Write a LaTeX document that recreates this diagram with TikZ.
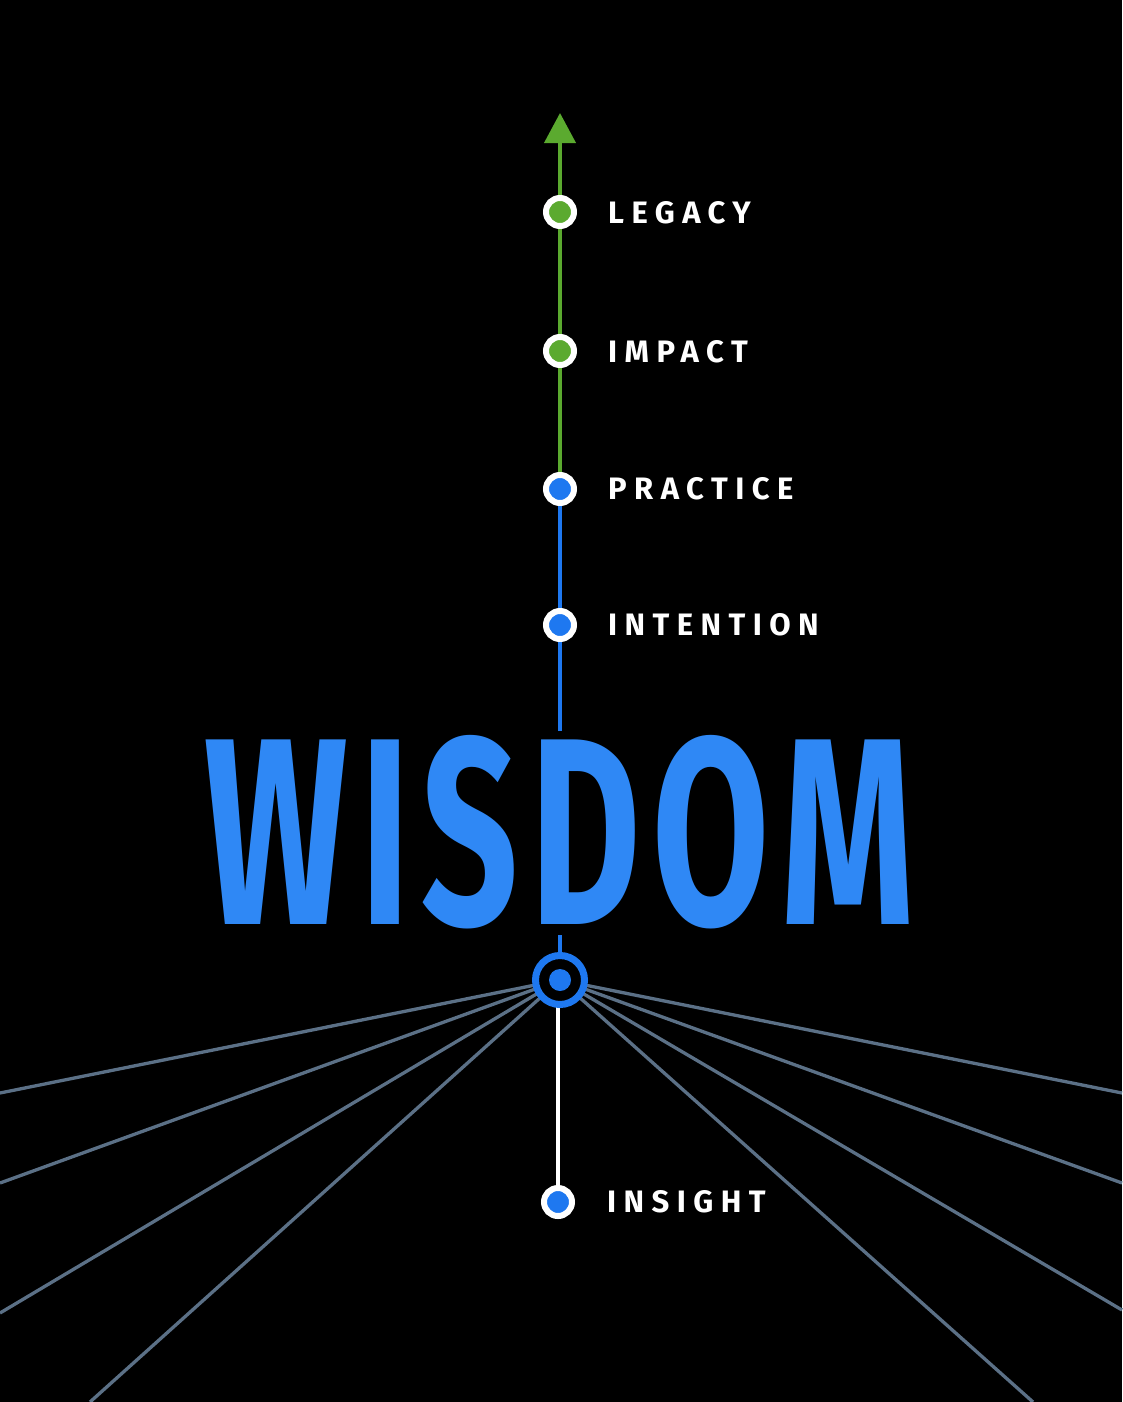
\documentclass[tikz,border=0pt]{standalone}
\usepackage{fontspec}
\setmainfont{Fira Sans}
\newfontfamily\labelfont[LetterSpace=24]{Fira Sans}
\newfontfamily\wisfont{Fira Sans}
\usetikzlibrary{arrows.meta}
\definecolor{gr}{HTML}{5BAA2F}
\definecolor{bl}{HTML}{1E78F0}
\definecolor{wb}{HTML}{2F88F5}
\definecolor{spoke}{HTML}{5B7086}
\begin{document}
\begin{tikzpicture}[x=1pt,y=-1pt,
  dotg/.style={circle,draw=white,line width=6pt,minimum size=28pt,inner sep=0pt,fill=gr},
  dotb/.style={circle,draw=white,line width=6pt,minimum size=28pt,inner sep=0pt,fill=bl},
  lbl/.style={anchor=west,text=white,inner sep=0pt,font=\labelfont\bfseries\fontsize{31}{31}\selectfont},
  spk/.style={draw=spoke,line width=3.3pt},
  stem/.style={line width=4pt}]
\fill[black] (0,0) rectangle (1122,1402);
\useasboundingbox (0,0) rectangle (1122,1402);

% coordinates
\coordinate (tip) at (560,113);
\coordinate (wtop) at (560,731);
\coordinate (wbot) at (560,935);
\coordinate (l1) at (0,1093);
\coordinate (l2) at (0,1183);
\coordinate (l3) at (0,1313);
\coordinate (l4) at (90,1402);
\coordinate (r1) at (1122,1093);
\coordinate (r2) at (1122,1183);
\coordinate (r3) at (1122,1310);
\coordinate (r4) at (1033,1402);
\coordinate (hubc) at (560,980);

% spokes
\foreach \e in {l1,l2,l3,l4,r1,r2,r3,r4}
  \draw[spk] (hubc) -- (\e);

% nodes
\node[dotg] (legacy) at (560,212) {};
\node[dotg] (impact) at (560,351) {};
\node[dotb] (practice) at (560,489) {};
\node[dotb] (intention) at (560,625) {};
\node[dotb] (insight) at (558,1202) {};

% stems
\draw[gr,stem,-{Triangle[width=31pt,length=30pt]}] (legacy) -- (tip);
\draw[gr,stem] (impact) -- (legacy);
\draw[gr,stem] (practice) -- (impact);
\draw[bl,stem] (intention) -- (practice);
\draw[bl,stem] (wtop) -- (intention);
\draw[white,stem] (insight) -- (insight |- hubc);

% hub
\node[circle,draw=bl,line width=7pt,minimum size=49pt,inner sep=0pt,fill=black] (hub) at (hubc) {};
\node[circle,fill=bl,minimum size=22pt,inner sep=0pt] (hubdot) at (hubc) {};
\draw[bl,stem] (wbot) -- (hub);

% WISDOM
\node[text=wb,inner sep=0pt] (wisdom) at (560,832.5) {\resizebox{710pt}{189pt}{\wisfont\bfseries W\kern0.07em I\kern0.07em S\kern0.07em D\kern0.07em O\kern0.07em M}};

% labels
\node[lbl] (tlegacy) at (608,213) {LEGACY};
\node[lbl] (timpact) at (608,352) {IMPACT};
\node[lbl] (tpractice) at (608,489) {PRACTICE};
\node[lbl] (tintention) at (608,625) {INTENTION};
\node[lbl] (tinsight) at (607,1202) {INSIGHT};
\end{tikzpicture}
\end{document}
